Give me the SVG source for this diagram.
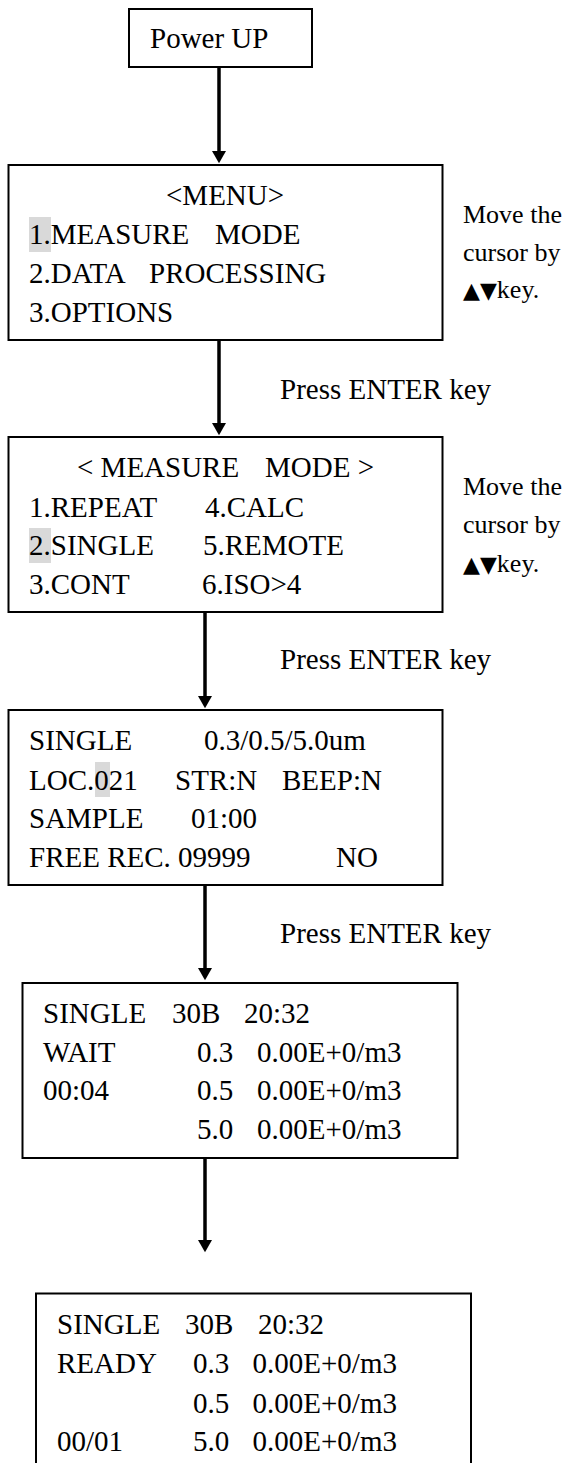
<svg xmlns="http://www.w3.org/2000/svg" width="566" height="1463" viewBox="0 0 566 1463">
<style>
text{font-family:"Liberation Serif","Times New Roman",serif;font-size:29px;fill:#000}
.side{font-size:26px}
.sym{font-family:"DejaVu Sans",sans-serif;font-size:22px}
.box{fill:#fff;stroke:#000;stroke-width:2}
.hl{fill:#d9d9d9}
.conn line{stroke:#000;stroke-width:3.5}
</style>
<defs>
<marker id="ah" markerUnits="userSpaceOnUse" markerWidth="16" markerHeight="14" viewBox="0 0 14 16" refX="0" refY="8" orient="auto" overflow="visible">
<path d="M0,0 L14,8 L0,16 z" fill="#000"/>
</marker>
</defs>
<rect width="566" height="1463" fill="#fff"/>

<g id="n-power">
<rect class="box" x="129" y="9" width="183" height="58"/>
<text x="150" y="48">Power UP</text>
</g>

<g id="n-menu">
<rect class="box" x="8.5" y="165" width="434" height="175"/>
<rect class="hl" x="29" y="217" width="22" height="35"/>
<text x="166" y="205">&lt;MENU&gt;</text>
<text x="29" y="244">1.MEASURE</text><text x="215" y="244">MODE</text>
<text x="29" y="283">2.DATA</text><text x="149" y="283">PROCESSING</text>
<text x="29" y="322">3.OPTIONS</text>
</g>
<g id="l-move1">
<text class="side" x="463" y="223">Move the</text>
<text class="side" x="463" y="261">cursor by</text>
<text class="side" x="463" y="298"><tspan class="sym">▲▼</tspan>key.</text>
</g>

<g id="n-measure">
<rect class="box" x="8.5" y="437" width="434" height="175"/>
<rect class="hl" x="29" y="528" width="22" height="35"/>
<text x="77" y="477">&lt; MEASURE</text><text x="265" y="477">MODE &gt;</text>
<text x="29" y="517">1.REPEAT</text><text x="205" y="517">4.CALC</text>
<text x="29" y="555">2.SINGLE</text><text x="203" y="555">5.REMOTE</text>
<text x="29" y="594">3.CONT</text><text x="202" y="594">6.ISO&gt;4</text>
</g>
<g id="l-move2">
<text class="side" x="463" y="495">Move the</text>
<text class="side" x="463" y="533">cursor by</text>
<text class="side" x="463" y="572"><tspan class="sym">▲▼</tspan>key.</text>
</g>

<g id="n-single">
<rect class="box" x="8.5" y="710" width="434" height="175"/>
<rect class="hl" x="95" y="762" width="15" height="35"/>
<text x="29" y="750">SINGLE</text><text x="204" y="750">0.3/0.5/5.0um</text>
<text x="29" y="790">LOC.021</text><text x="175" y="790">STR:N</text><text x="282" y="790">BEEP:N</text>
<text x="29" y="828">SAMPLE</text><text x="191" y="828">01:00</text>
<text x="29" y="867">FREE REC. 09999</text><text x="336" y="867">NO</text>
</g>

<g id="n-wait">
<rect class="box" x="22.5" y="983" width="435" height="175"/>
<text x="43" y="1023">SINGLE</text><text x="172" y="1023">30B</text><text x="244" y="1023">20:32</text>
<text x="43" y="1062">WAIT</text><text x="197" y="1062">0.3</text><text x="257" y="1062">0.00E+0/m3</text>
<text x="43" y="1100">00:04</text><text x="197" y="1100">0.5</text><text x="257" y="1100">0.00E+0/m3</text>
<text x="197" y="1139">5.0</text><text x="257" y="1139">0.00E+0/m3</text>
</g>

<g id="n-ready">
<rect class="box" x="36" y="1293.5" width="435" height="220"/>
<text x="57" y="1334">SINGLE</text><text x="185" y="1334">30B</text><text x="258" y="1334">20:32</text>
<text x="57" y="1373">READY</text><text x="193" y="1373">0.3</text><text x="252.5" y="1373">0.00E+0/m3</text>
<text x="193" y="1413">0.5</text><text x="252.5" y="1413">0.00E+0/m3</text>
<text x="57" y="1451">00/01</text><text x="193" y="1451">5.0</text><text x="252.5" y="1451">0.00E+0/m3</text>
</g>

<g id="connectors" class="conn">
<line x1="219" y1="68" x2="219" y2="151" marker-end="url(#ah)"/>
<line x1="219" y1="341" x2="219" y2="423" marker-end="url(#ah)"/>
<line x1="205" y1="613" x2="205" y2="696" marker-end="url(#ah)"/>
<line x1="205" y1="886" x2="205" y2="968" marker-end="url(#ah)"/>
<line x1="205" y1="1159" x2="205" y2="1240" marker-end="url(#ah)"/>
</g>
<g id="labels">
<text x="280" y="399">Press ENTER key</text>
<text x="280" y="669">Press ENTER key</text>
<text x="280" y="943">Press ENTER key</text>
</g>
</svg>
